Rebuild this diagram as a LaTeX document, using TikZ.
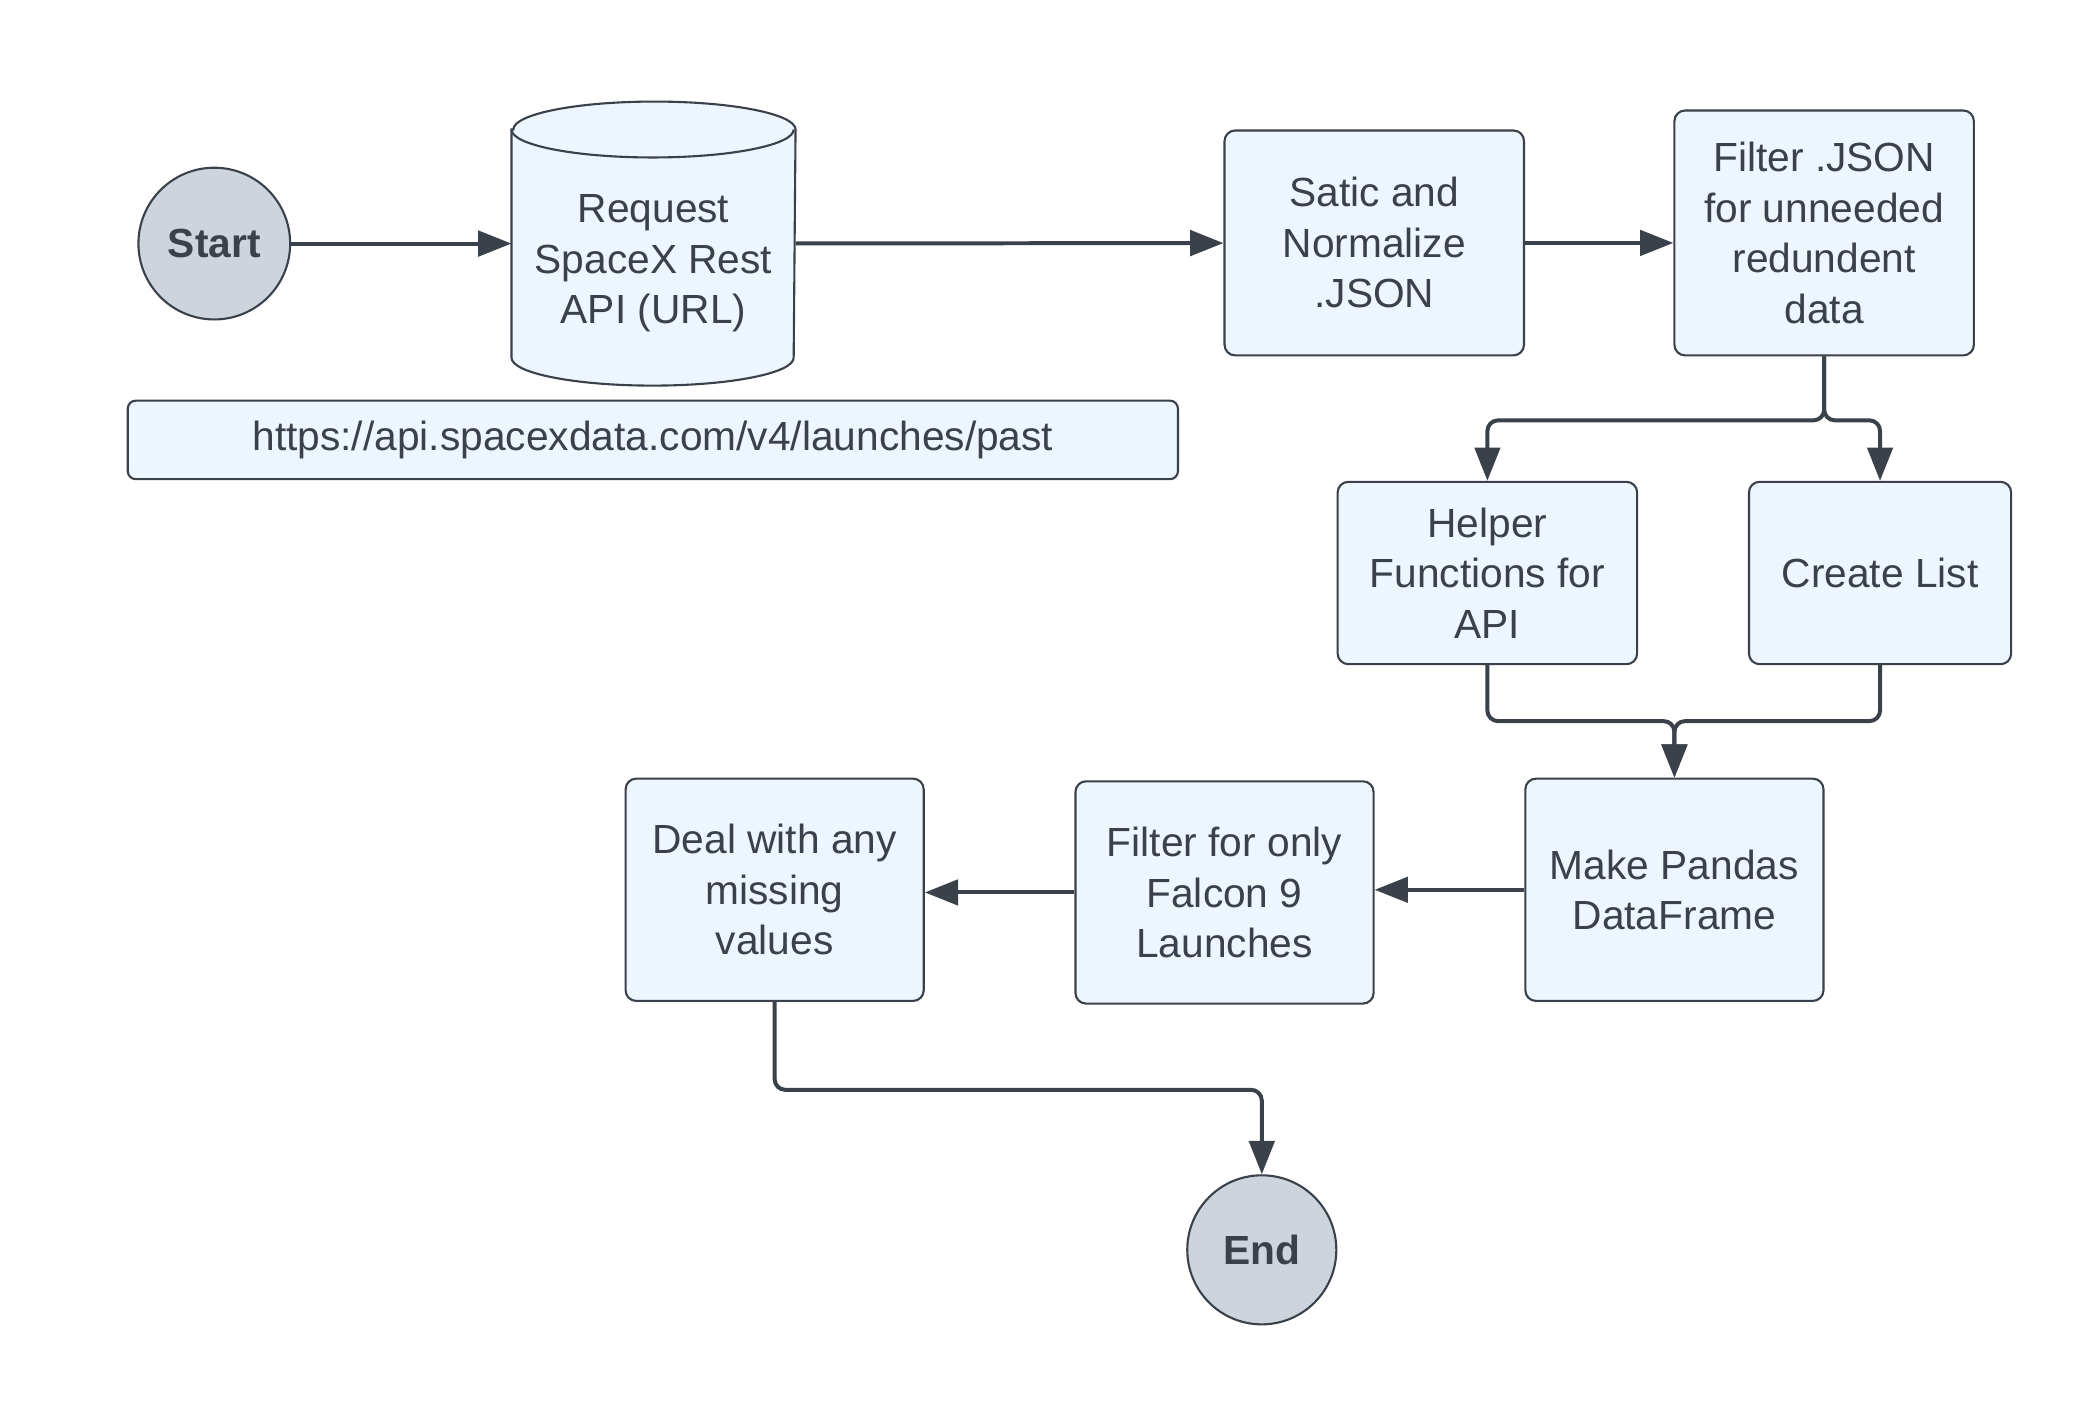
\documentclass[tikz,border=0pt]{standalone}
\usepackage{fontspec}
\setmainfont{Liberation Sans}
\usetikzlibrary{arrows.meta}
\definecolor{ink}{HTML}{3A414A}
\definecolor{boxfill}{HTML}{EDF5FF}
\definecolor{termfill}{HTML}{CED4DB}

\begin{document}
\begin{tikzpicture}[
    every node/.style={text=ink, font=\fontsize{8.7}{10.8}\selectfont, align=center, inner sep=0pt},
    box/.style={draw=ink, fill=boxfill, line width=0.45pt, rounded corners=0.08cm},
    term/.style={circle, draw=ink, fill=termfill, line width=0.45pt, font=\fontsize{8.7}{10.8}\selectfont\bfseries},
    arr/.style={draw=ink, line width=0.85pt, rounded corners=0.08cm, -{Triangle[length=0.25cm,width=0.19cm]}}]
            \useasboundingbox (0,0) rectangle (15.68,-10.53);
            \node[term, minimum size=1.14cm] (Start) at (1.61,-1.83) {Start};
            \node[minimum width=2.12cm, minimum height=2.12cm] (API) at (4.91,-1.83) {};
            \draw [draw=ink, fill=boxfill, line width=0.45pt] ([yshift=-0.21cm]API.north west) -- ([yshift=0.21cm]API.south west) arc[start angle=180, end angle=360, x radius=1.06cm, y radius=0.21cm] -- ([yshift=-0.21cm]API.north east) arc[start angle=0, end angle=180, x radius=1.06cm, y radius=0.21cm] -- cycle;
            \draw [ink, line width=0.45pt] ([yshift=-0.21cm]API.north west) arc[start angle=180, end angle=360, x radius=1.06cm, y radius=0.21cm];
            \node (APItext) at (4.91,-1.98) {Request\\SpaceX Rest\\API (URL)};
            \node[box, minimum width=7.89cm, minimum height=0.59cm, rounded corners=0.06cm] (URL) at (4.905,-3.305) {https://api.spacexdata.com/v4/launches/past};
            \node[box, minimum width=2.25cm, minimum height=1.69cm] (Norm) at (10.325,-1.825) {Satic and\\Normalize\\.JSON};
            \node[box, minimum width=2.25cm, minimum height=1.84cm] (Filt) at (13.705,-1.75) {Filter .JSON\\for unneeded\\redundent\\data};
            \node[box, minimum width=2.25cm, minimum height=1.37cm] (Help) at (11.175,-4.305) {Helper\\Functions for\\API};
            \node[box, minimum width=1.97cm, minimum height=1.37cm] (List) at (14.125,-4.305) {Create List};
            \node[box, minimum width=2.24cm, minimum height=1.67cm] (DF) at (12.58,-6.685) {Make Pandas\\DataFrame};
            \node[box, minimum width=2.24cm, minimum height=1.67cm] (Falcon) at (9.2,-6.705) {Filter for only\\Falcon 9\\Launches};
            \node[box, minimum width=2.24cm, minimum height=1.67cm] (Miss) at (5.82,-6.685) {Deal with any\\missing\\values};
            \node[term, minimum size=1.12cm] (End) at (9.48,-9.39) {End};
            \draw [arr] (Start) -- (API);
            \draw [arr] (API) -- (Norm);
            \draw [arr] (Norm) -- (Norm -| Filt.west);
            \draw [arr] (Filt.south) -- ++(0,-0.48) -| (Help.north);
            \draw [arr] (Filt.south) -- ++(0,-0.48) -| (List.north);
            \draw [arr] (Help.south) -- ++(0,-0.42) -| (DF.north);
            \draw [arr] (List.south) -- ++(0,-0.42) -| (DF.north);
            \draw [arr] (DF) -- (DF -| Falcon.east);
            \draw [arr] (Falcon) -- (Falcon -| Miss.east);
            \draw [arr] (Miss.south) -- ++(0,-0.66) -| (End.north);
        \end{tikzpicture}
\end{document}
